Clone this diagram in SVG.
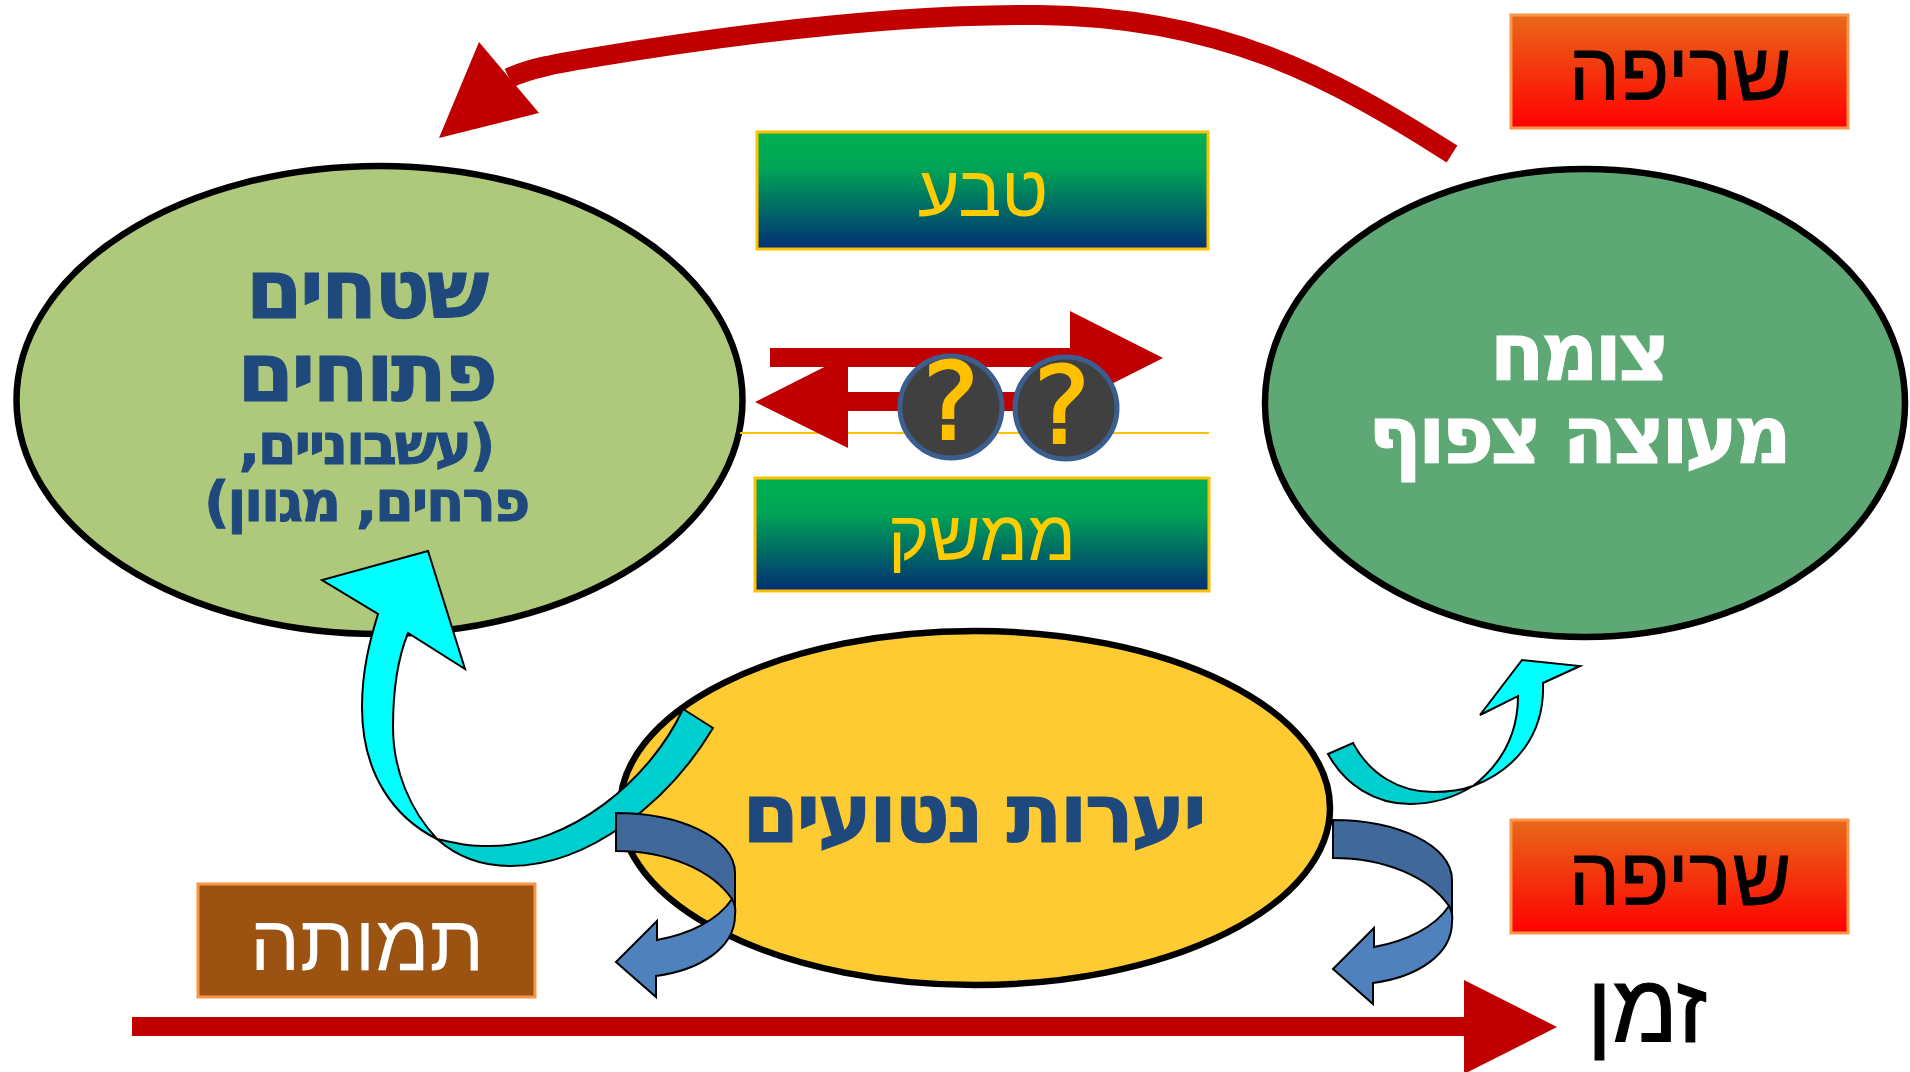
<svg xmlns="http://www.w3.org/2000/svg" width="1910" height="1072" viewBox="0 0 1910 1072">
<defs>
<style>
text{font-family:"Liberation Sans","DejaVu Sans",sans-serif;text-anchor:middle;direction:rtl}
.e{stroke:#000;stroke-width:6.500}
.b{font-family:"DejaVu Sans","Liberation Sans",sans-serif;font-weight:bold;fill:#1F497D;stroke:#1F497D;stroke-width:1;letter-spacing:-3px}
.w{font-family:"DejaVu Sans","Liberation Sans",sans-serif;font-weight:bold;fill:#fff;stroke:#fff;stroke-width:1;letter-spacing:-4px}
.s{font-size:56px;letter-spacing:-2.300px}
.t{stroke-width:.8}
.ar{stroke:#000;stroke-width:2;stroke-linejoin:miter}
.red{fill:#C00000}
.gb{fill:url(#gb);stroke:#FFC000;stroke-width:3}
.rb{fill:url(#rb);stroke:#F79646;stroke-width:3}
.q{fill:#404040;stroke:#3B5E8E;stroke-width:5}
.qm{font-family:"DejaVu Sans",sans-serif;fill:#FFC000;stroke:#FFC000;stroke-width:2;font-size:107px}
</style>
<linearGradient id="gb" x1="0" y1="0" x2="0" y2="1"><stop offset="0" stop-color="#00B050"/><stop offset=".3" stop-color="#00A656"/><stop offset="1" stop-color="#002F74"/></linearGradient>
<linearGradient id="rb" x1="0" y1="0" x2="0" y2="1"><stop offset="0" stop-color="#E9691A"/><stop offset="1" stop-color="#FF0000"/></linearGradient>
<g id="curl">
<path class="ar" fill="#41689B" d="M616 813C680 813 735 838 735 873V915L732 899C712 870 668 851 616 851Z"/>
<path class="ar" fill="#4F81BD" d="M732 899C737 908 735 912 735 915C735 948 700 970 656 976V997L616 962L657 921V940C690 934 718 920 732 899Z"/>
</g>
</defs>
<rect width="1910" height="1072" fill="#fff"/>
<g id="ellipse-open"><ellipse class="e" cx="379.500" cy="400" rx="363" ry="234" fill="#AFC97C"/>
<text class="b" x="366" y="318" font-size="82">שטחים</text>
<text class="b" x="366" y="401" font-size="82">פתוחים</text>
<text class="b s" x="366" y="464">(עשבוניים,</text>
<text class="b s" x="366" y="521">פרחים, מגוון)</text></g>
<g id="ellipse-veg"><ellipse class="e" cx="1585" cy="403" rx="320" ry="234" fill="#5DA874"/>
<text class="w" x="1578" y="380" font-size="80">צומח</text>
<text class="w" x="1578" y="463" font-size="80">מעוצה צפוף</text></g>
<g id="ellipse-planted"><ellipse class="e" cx="975" cy="808" rx="355" ry="177" fill="#FFCB33"/>
<text class="b" x="973" y="842" font-size="82">יערות נטועים</text></g>
<g id="box-nature"><rect class="gb" x="757" y="132" width="451" height="117"/><text x="983" y="216" font-size="72" fill="#FFCC00">טבע</text></g>
<line x1="740" y1="433" x2="1209" y2="433" stroke="#FFC000" stroke-width="2"/>
<g id="box-farm"><rect class="gb" x="755" y="478" width="454" height="113"/><text x="982" y="560" font-size="70" fill="#FFCC00">ממשק</text></g>
<g id="box-fire1"><rect class="rb" x="1511" y="15" width="337" height="113"/><text class="t" x="1680" y="100" font-size="81" fill="#000" stroke="#000">שריפה</text></g>
<g id="box-fire2"><rect class="rb" x="1511" y="820" width="337" height="113"/><text class="t" x="1680" y="905" font-size="81" fill="#000" stroke="#000">שריפה</text></g>
<g id="box-death"><rect x="198" y="884" width="337" height="113" fill="#9C5312" stroke="#F79646" stroke-width="3"/><text x="367" y="970" font-size="79" fill="#fff">תמותה</text></g>
<g id="label-time"><text x="1647" y="1042" font-size="96" fill="#000" stroke="#000" stroke-width="1.200">זמן</text></g>
<g id="connectors">
<path class="red" d="M770 348H1070V311L1163 358L1070 405V367H770Z"/>
<path class="red" d="M755 402L848 355V392H1100V411H848V448Z"/>
<path fill="none" stroke="#C00000" stroke-width="20" d="M1452 154C1330 76 1220 17 1040 15C860 13 650 48 590 58C560 63 530 68 509 78"/>
<path class="red" d="M439 138L479 42L539 113Z"/>
<path class="red" d="M132 1017H1464V980L1557 1027L1464 1074V1036H132Z"/>
<path class="ar" fill="#00FFFF" d="M437 839C395 818 362 775 362 707C362 670 370 640 378 614L322 580L428 551L465 669L408 633C397 660 393 695 393 727C393 770 410 810 437 839Z"/>
<path class="ar" fill="#00CFCF" d="M683 709L713 728C670 800 590 866 510 866C480 866 455 855 437 839C455 843 465 846 490 846C570 846 650 780 683 709Z"/>
<path class="ar" fill="#00FFFF" d="M1473 786C1500 765 1518 735 1518 696L1480 715L1522 660L1580 666L1543 683C1545 735 1515 770 1473 786Z"/>
<path class="ar" fill="#00CFCF" d="M1328 754L1353 743C1370 775 1400 792 1433 792C1450 792 1462 790 1473 786C1455 797 1435 804 1410 804C1375 804 1345 785 1328 754Z"/>
<use href="#curl"/>
<use href="#curl" x="717" y="7"/>
</g>
<g id="q1"><circle class="q" cx="951" cy="407" r="51"/><text class="qm" x="951" y="439">?</text></g>
<g id="q2"><circle class="q" cx="1066" cy="408" r="51"/><text class="qm" x="1062" y="443">?</text></g>
</svg>
